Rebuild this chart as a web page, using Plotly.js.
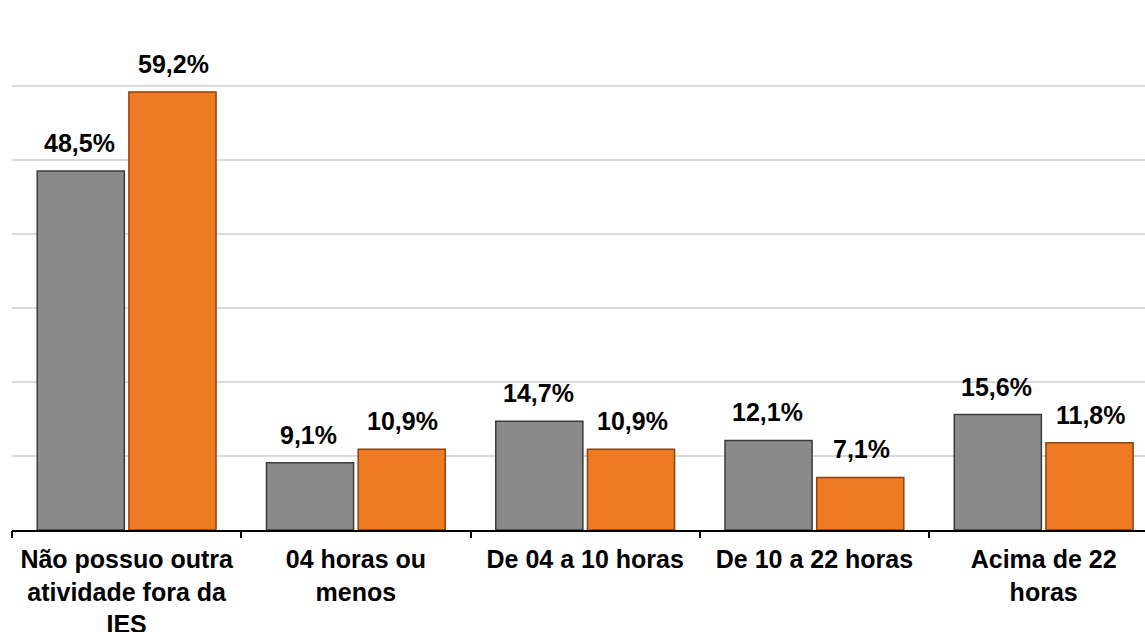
<!DOCTYPE html>
<html>
<head>
<meta charset="utf-8">
<script src="https://cdn.plot.ly/plotly-3.0.1.min.js"></script>
<style>html,body{margin:0;padding:0;background:#fff;}#chart{width:1145px;height:632px;}</style>
</head>
<body>
<div id="chart"></div>
<script>
var categories = ["Não possuo outra<br>atividade fora da<br>IES", "04 horas ou<br>menos", "De 04 a 10 horas", "De 10 a 22 horas", "Acima de 22<br>horas"];
var seriesGray = [48.5, 9.1, 14.7, 12.1, 15.6];
var seriesOrange = [59.2, 10.9, 10.9, 7.1, 11.8];
var labelsGray = ["48,5%", "9,1%", "14,7%", "12,1%", "15,6%"];
var labelsOrange = ["59,2%", "10,9%", "10,9%", "7,1%", "11,8%"];

var idx = categories.map(function(c, i){ return i; });

var traces = [
  {type:'bar', x: idx, y: seriesGray, name:'A',
   marker:{color:'#8a8a8a', line:{color:'#3c3c3c', width:1.5}}, hoverinfo:'none'},
  {type:'bar', x: idx, y: seriesOrange, name:'B',
   marker:{color:'#ee7a24', line:{color:'#8a420f', width:1.5}}, hoverinfo:'none'}
];

var annotations = [];
idx.forEach(function(i){
  annotations.push({x:i, y:seriesGray[i], xref:'x', yref:'y', text:'<b>'+labelsGray[i]+'</b>', showarrow:false,
    xanchor:'center', yanchor:'bottom', xshift:-47, yshift:12,
    font:{family:'Liberation Sans, Arial, sans-serif', size:25, color:'#000'}});
  annotations.push({x:i, y:seriesOrange[i], xref:'x', yref:'y', text:'<b>'+labelsOrange[i]+'</b>', showarrow:false,
    xanchor:'center', yanchor:'bottom', xshift:47, yshift:12,
    font:{family:'Liberation Sans, Arial, sans-serif', size:25, color:'#000'}});
});

var layout = {
  width:1145, height:632,
  margin:{l:12, r:0, t:12, b:102},
  paper_bgcolor:'#fff', plot_bgcolor:'#fff',
  showlegend:false,
  barmode:'group', bargap:0.2, bargroupgap:0.05,
  font:{family:'Liberation Sans, Arial, sans-serif', color:'#000'},
  xaxis:{
    type:'linear', range:[-0.5, 4.442], tickmode:'array', tickvals:idx, ticktext:categories.map(function(c){return '<b>'+c+'</b>';}),
    showline:true, linecolor:'#000', linewidth:2, ticks:'', showgrid:false, zeroline:false, ticklabelstandoff:6,
    tickfont:{family:'Liberation Sans, Arial, sans-serif', size:25, color:'#000'}
  },
  xaxis2:{
    overlaying:'x', matches:'x', type:'linear', range:[-0.5, 4.442], tickmode:'array', tickvals:[-0.5,0.5,1.5,2.5,3.5],
    ticks:'outside', ticklen:7, tickwidth:2, tickcolor:'#000', showticklabels:false, showgrid:false, showline:false, zeroline:false
  },
  yaxis:{range:[0,70], dtick:10, showgrid:true, gridcolor:'#d9d9d9', gridwidth:2, showticklabels:false, zeroline:false, showline:false, ticks:''},
  annotations: annotations
};

traces.push({type:'scatter', x:[0], y:[0], xaxis:'x2', mode:'markers', marker:{opacity:0}, hoverinfo:'none', showlegend:false});

Plotly.newPlot('chart', traces, layout, {displayModeBar:false, staticPlot:true});
</script>
</body>
</html>
